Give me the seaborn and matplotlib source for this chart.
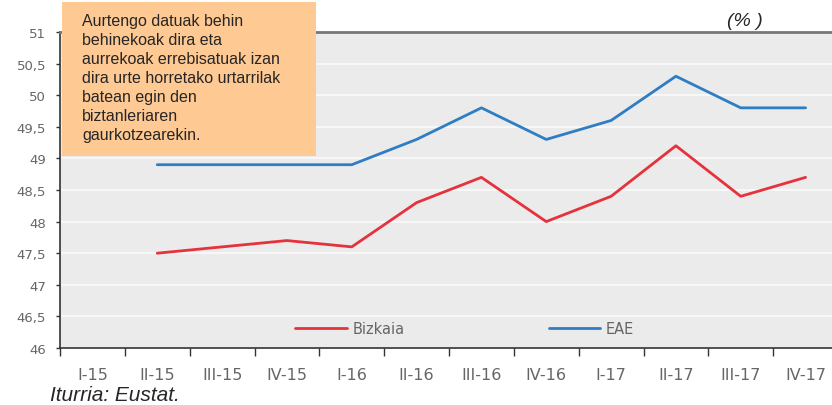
import numpy as np
import pandas as pd
import matplotlib
matplotlib.use("Agg")
import matplotlib.pyplot as plt
from matplotlib.patches import Rectangle
import seaborn as sns

# data
quarters = ["I-15", "II-15", "III-15", "IV-15", "I-16", "II-16",
            "III-16", "IV-16", "I-17", "II-17", "III-17", "IV-17"]
bizkaia = [np.nan, 47.5, 47.6, 47.7, 47.6, 48.3, 48.7, 48.0, 48.4, 49.2, 48.4, 48.7]
eae = [np.nan, 48.9, 48.9, 48.9, 48.9, 49.3, 49.8, 49.3, 49.6, 50.3, 49.8, 49.8]
note = ("Aurtengo datuak behin\nbehinekoak dira eta\naurrekoak errebisatuak izan\n"
        "dira urte horretako urtarrilak\nbatean egin den\nbiztanleriaren\ngaurkotzearekin.")

df = pd.DataFrame({
    "pos": list(range(len(quarters))) * 2,
    "value": bizkaia + eae,
    "serie": ["Bizkaia"] * len(quarters) + ["EAE"] * len(quarters),
}).dropna()

sns.set_style("white")
plt.rcParams["font.family"] = ["Liberation Sans", "DejaVu Sans"]
tick_font = "DejaVu Sans"
gray = "#666666"

fig = plt.figure(figsize=(8.32, 4.06), dpi=100)
ax = fig.add_axes([60 / 832, 1 - 349 / 406, 778 / 832, 316 / 406])
ax.set_facecolor("#EBEBEB")

sns.lineplot(data=df, x="pos", y="value", hue="serie",
             palette={"Bizkaia": "#E5323C", "EAE": "#2F7DC3"},
             linewidth=2, ax=ax)

ax.set_xlim(-0.5, len(quarters) - 0.5)
ax.set_ylim(46, 51)
yt = np.arange(46, 51.01, 0.5)
ax.set_yticks(yt)
ax.set_yticklabels([f"{v:g}".replace(".", ",") for v in yt], color=gray,
                   fontsize=9.5, family=tick_font)
ax.yaxis.grid(True, color="#F7F7F7", linewidth=1.5)
ax.set_axisbelow(True)

# ticks on category borders, labels in the middle
ax.set_xticks(np.arange(-0.5, len(quarters), 1.0))
ax.set_xticklabels([])
ax.set_xticks(np.arange(len(quarters)), minor=True)
ax.set_xticklabels(quarters, minor=True, color=gray, fontsize=11.5, family=tick_font)
ax.tick_params(axis="x", which="major", bottom=True, length=6, width=1,
               color="#333333", direction="out")
ax.tick_params(axis="x", which="minor", bottom=True, length=0, pad=14)
ax.tick_params(axis="y", left=True, length=3, width=1, color="#333333",
               direction="out", pad=7)
ax.set_xlabel("")
ax.set_ylabel("")

for side in ["left", "bottom"]:
    ax.spines[side].set_color("#333333")
    ax.spines[side].set_linewidth(1.2)
ax.spines["top"].set_color("#777777")
ax.spines["top"].set_linewidth(2)
ax.spines["right"].set_visible(False)

leg = ax.legend(loc="lower center", bbox_to_anchor=(0.52, -0.005), ncol=2, frameon=False,
                handlelength=3.55, columnspacing=9.9, handletextpad=0.35,
                prop={"family": tick_font, "size": 10.5})
for t in leg.get_texts():
    t.set_color(gray)

# note box
fig.patches.append(Rectangle((62 / 832, 1 - 157 / 406), 254 / 832, 154 / 406,
                             transform=fig.transFigure, facecolor="#FFC993",
                             edgecolor="none", zorder=5))
fig.text(82 / 832, 1 - 14 / 406, note, fontsize=11.5, va="top", ha="left",
         linespacing=1.34, zorder=6)
fig.text(727 / 832, 1 - 22 / 406, "(% )", fontsize=14, style="italic", va="center")
fig.text(50 / 832, 1 - 396 / 406, "Iturria: Eustat.", fontsize=15, style="italic", va="center")

fig.savefig("out.png", dpi=100)
